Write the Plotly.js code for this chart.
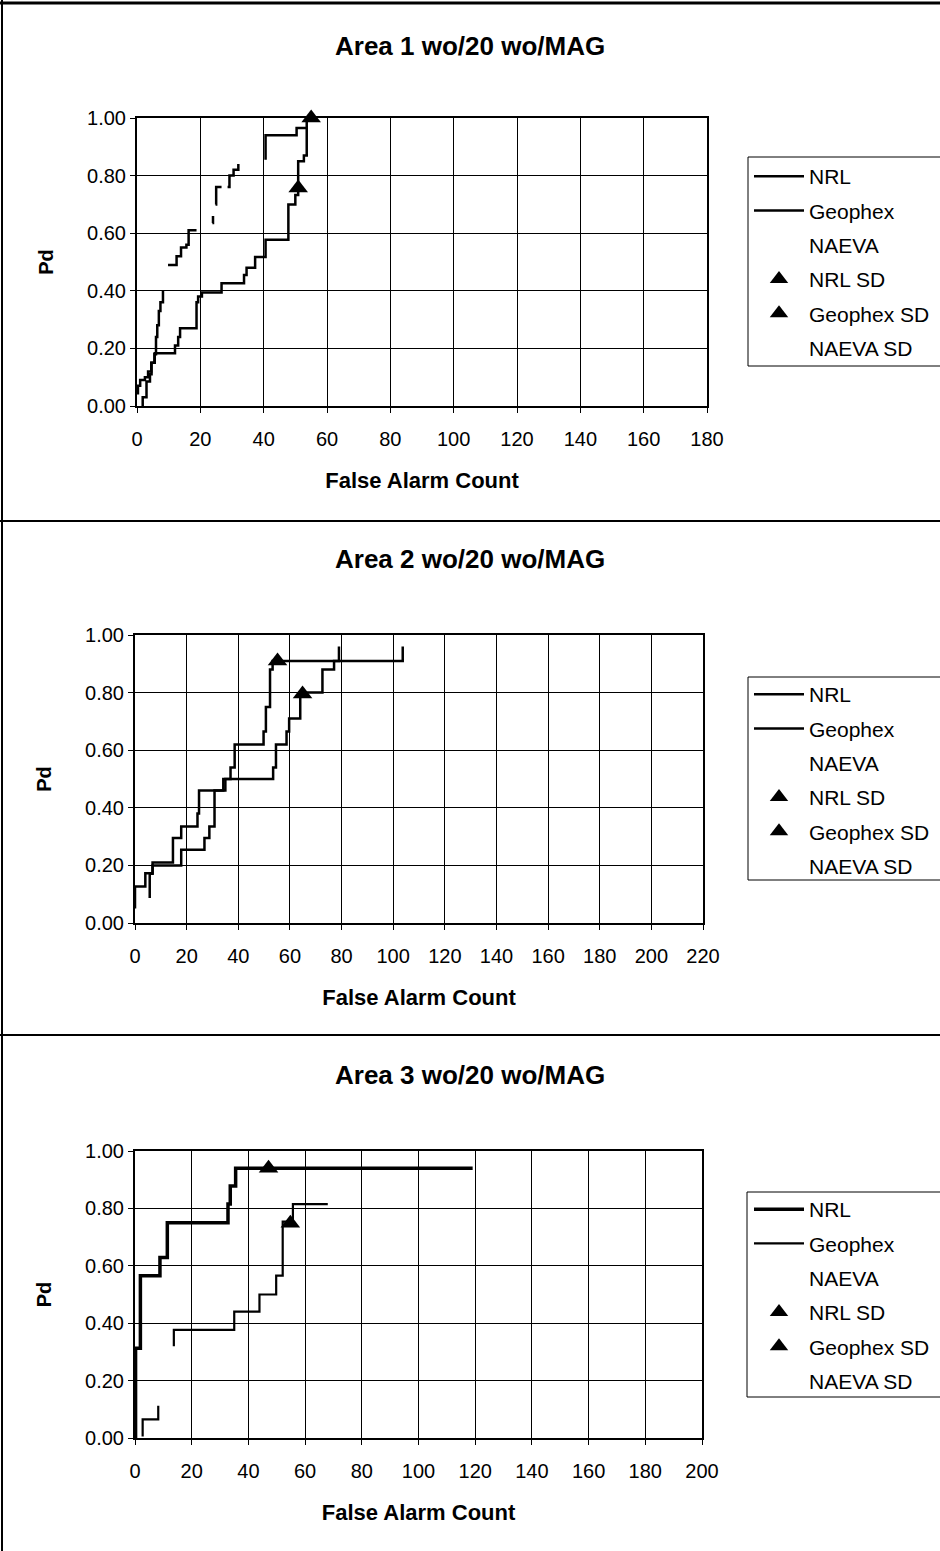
<!DOCTYPE html>
<html>
<head>
<meta charset="utf-8">
<script src="https://cdn.plot.ly/plotly-3.0.1.min.js"></script>
<style>html,body{margin:0;padding:0;background:#fff;}#chart{width:940px;height:1551px;}</style>
</head>
<body>
<div id="chart"></div>
<script>
// ---------- data ----------
const panelTitles = ["Area 1 wo/20 wo/MAG", "Area 2 wo/20 wo/MAG", "Area 3 wo/20 wo/MAG"];
const seriesNames = ["NRL", "Geophex", "NAEVA", "NRL SD", "Geophex SD", "NAEVA SD"];
const xRanges = [[0, 180], [0, 220], [0, 200]];

// Area 1
const a1NrlX = [0.3, 0.3, 1.0, 2.5, 3.5, 4.5, 5.5, 6.0, 6.4, 6.9, 7.4, 8.2, null, 9.8, 12.5, 13.9, 15.6, 16.3, 18.8, null, 23.8, 24.0, null, 24.8, 25.0, 26.7, null, 28.6, 29.2, 30.5, 32.0, null, 40.6, 40.6, 50.4, 53.6, 55.0];
const a1NrlY = [0.04, 0.07, 0.09, 0.10, 0.12, 0.15, 0.18, 0.24, 0.28, 0.33, 0.36, 0.40, null, 0.49, 0.52, 0.55, 0.56, 0.61, 0.61, null, 0.635, 0.66, null, 0.70, 0.76, 0.76, null, 0.76, 0.80, 0.82, 0.84, null, 0.855, 0.94, 0.965, 1.0, 1.0];
const a1GeoX = [1.8, 1.8, 3.0, 4.1, 4.6, 5.6, 12.0, 13.0, 13.6, 18.8, 19.3, 20.5, 26.7, 33.8, 34.6, 37.3, 40.6, 47.8, 50.0, 50.9, 52.7, 53.6];
const a1GeoY = [0.0, 0.03, 0.085, 0.11, 0.15, 0.183, 0.21, 0.24, 0.27, 0.36, 0.38, 0.394, 0.426, 0.455, 0.48, 0.517, 0.577, 0.70, 0.733, 0.85, 0.87, 0.965];
const a1NrlSdX = [55.0], a1NrlSdY = [1.0];
const a1GeoSdX = [50.9], a1GeoSdY = [0.757];

// Area 2
const a2NrlX = [0, 0, 4.0, 6.8, 14.7, 17.9, 24.2, 24.8, 35.0, 37.0, 38.6, 49.8, 50.7, 52.3, 53.3, 103.7];
const a2NrlY = [0.05, 0.127, 0.173, 0.21, 0.295, 0.335, 0.38, 0.46, 0.50, 0.54, 0.62, 0.665, 0.75, 0.88, 0.91, 0.96];
const a2GeoX = [5.7, 5.7, 6.8, 17.9, 26.9, 28.8, 30.8, 34.2, 53.5, 54.6, 58.7, 59.7, 64.0, 72.6, 77.1, 79.0];
const a2GeoY = [0.087, 0.171, 0.20, 0.254, 0.295, 0.335, 0.46, 0.50, 0.54, 0.62, 0.665, 0.71, 0.80, 0.88, 0.91, 0.96];
const a2NrlSdX = [55.2], a2NrlSdY = [0.91];
const a2GeoSdX = [64.9], a2GeoSdY = [0.795];

// Area 3
const a3NrlX = [0.2, 0.2, 1.9, 8.8, 11.4, 32.8, 33.6, 35.5, 119.1];
const a3NrlY = [0.0, 0.313, 0.565, 0.629, 0.75, 0.815, 0.878, 0.94, 0.94];
const a3GeoX = [2.7, 2.7, 8.2, null, 13.7, 13.7, 35.0, 43.9, 49.8, 52.1, 55.7, 68.0];
const a3GeoY = [0.005, 0.065, 0.112, null, 0.32, 0.377, 0.44, 0.50, 0.566, 0.754, 0.815, 0.815];
const a3NrlSdX = [47.1], a3NrlSdY = [0.94];
const a3GeoSdX = [54.8], a3GeoSdY = [0.748];

// ---------- build ----------
const FONT = "Liberation Sans, Arial, sans-serif";
const W = 940, H = 1551;
const px = v => v / W;
const py = v => 1 - v / H;

const panels = [
  {nrl: [a1NrlX, a1NrlY], geo: [a1GeoX, a1GeoY], nsd: [a1NrlSdX, a1NrlSdY], gsd: [a1GeoSdX, a1GeoSdY], nrlW: 2.5, geoW: 2.5,
   plot: {l: 137, r: 707, t: 118, b: 406}, titleY: 46, legTop: 156, box: [748, 157, 366]},
  {nrl: [a2NrlX, a2NrlY], geo: [a2GeoX, a2GeoY], nsd: [a2NrlSdX, a2NrlSdY], gsd: [a2GeoSdX, a2GeoSdY], nrlW: 2.5, geoW: 2.5,
   plot: {l: 135, r: 703, t: 635, b: 923}, titleY: 559, legTop: 674, box: [748, 677, 880]},
  {nrl: [a3NrlX, a3NrlY], geo: [a3GeoX, a3GeoY], nsd: [a3NrlSdX, a3NrlSdY], gsd: [a3GeoSdX, a3GeoSdY], nrlW: 3.5, geoW: 2.2,
   plot: {l: 135, r: 702, t: 1151, b: 1438}, titleY: 1075, legTop: 1189, box: [747, 1192, 1397]}
];

const traces = [];
const layout = {
  width: W, height: H,
  margin: {l: 0, r: 0, t: 0, b: 0},
  paper_bgcolor: "#fff", plot_bgcolor: "#fff",
  font: {family: FONT, size: 20, color: "#000"},
  showlegend: true,
  annotations: [], shapes: []
};

panels.forEach((p, i) => {
  const n = i + 1;
  const xa = n === 1 ? "x" : "x" + n;
  const ya = n === 1 ? "y" : "y" + n;
  const leg = n === 1 ? "legend" : "legend" + n;
  const common = {xaxis: xa, yaxis: ya, legend: leg, cliponaxis: false};
  traces.push(Object.assign({type: "scatter", mode: "lines", name: seriesNames[0], legendgroup: "g" + n + "a",
    x: p.nrl[0], y: p.nrl[1], line: {color: "#000", width: p.nrlW, shape: "hv"}, connectgaps: false}, common));
  traces.push(Object.assign({type: "scatter", mode: "lines", name: seriesNames[1], legendgroup: "g" + n + "b",
    x: p.geo[0], y: p.geo[1], line: {color: "#000", width: p.geoW, shape: "hv"}, connectgaps: false}, common));
  traces.push(Object.assign({type: "scatter", mode: "lines", name: seriesNames[2], legendgroup: "g" + n + "c",
    x: [null], y: [null], line: {color: "rgba(0,0,0,0)", width: 0}}, common));
  traces.push(Object.assign({type: "scatter", mode: "markers", name: seriesNames[3], legendgroup: "g" + n + "d",
    x: p.nsd[0], y: p.nsd[1], marker: {symbol: "triangle-up", size: 17, color: "#000"}}, common));
  traces.push(Object.assign({type: "scatter", mode: "markers", name: seriesNames[4], legendgroup: "g" + n + "e",
    x: p.gsd[0], y: p.gsd[1], marker: {symbol: "triangle-up", size: 17, color: "#000"}}, common));
  traces.push(Object.assign({type: "scatter", mode: "markers", name: seriesNames[5], legendgroup: "g" + n + "f",
    x: [null], y: [null], marker: {symbol: "triangle-up", size: 17, color: "rgba(0,0,0,0)"}}, common));

  const xKey = n === 1 ? "xaxis" : "xaxis" + n;
  const yKey = n === 1 ? "yaxis" : "yaxis" + n;
  layout[xKey] = {
    domain: [px(p.plot.l), px(p.plot.r)], anchor: ya, range: xRanges[i], dtick: 20, tick0: 0,
    showgrid: true, gridcolor: "#000", gridwidth: 1, zeroline: false,
    showline: true, mirror: true, linecolor: "#000", linewidth: 2,
    ticks: "outside", ticklen: 5, tickcolor: "#000", ticklabelstandoff: 9,
    tickfont: {family: FONT, size: 20, color: "#000"}, fixedrange: true,
    title: {text: "<b>False Alarm Count</b>", font: {family: FONT, size: 22, color: "#000"}, standoff: 24}
  };
  layout[yKey] = {
    domain: [py(p.plot.b), py(p.plot.t)], anchor: xa, range: [0, 1], dtick: 0.2, tick0: 0, tickformat: ".2f",
    showgrid: true, gridcolor: "#000", gridwidth: 1, zeroline: false,
    showline: true, mirror: true, linecolor: "#000", linewidth: 2,
    ticks: "outside", ticklen: 5, tickcolor: "#000",
    tickfont: {family: FONT, size: 20, color: "#000"}, fixedrange: true,
    title: {text: "<b>Pd</b>", font: {family: FONT, size: 20, color: "#000"}, standoff: 28}
  };
  layout[leg] = {
    x: px(749), y: py(p.legTop), xanchor: "left", yanchor: "top",
    bgcolor: "rgba(0,0,0,0)", borderwidth: 0, itemwidth: 50, tracegroupgap: 4,
    traceorder: "grouped", font: {family: FONT, size: 21, color: "#000"}
  };
  layout.annotations.push({
    xref: "paper", yref: "paper", x: 0.5, y: py(p.titleY), xanchor: "center", yanchor: "middle",
    text: "<b>" + panelTitles[i] + "</b>", showarrow: false, font: {family: FONT, size: 26, color: "#000"}
  });
  layout.shapes.push({
    type: "rect", xref: "paper", yref: "paper", x0: px(p.box[0]), x1: px(950), y0: py(p.box[2]), y1: py(p.box[1]),
    line: {color: "#000", width: 1}, fillcolor: "rgba(0,0,0,0)", layer: "below"
  });
});

// outer frame and separators
layout.shapes.push({type: "line", xref: "paper", yref: "paper", x0: px(2), x1: px(2), y0: 0, y1: 1, line: {color: "#000", width: 2}});
layout.shapes.push({type: "line", xref: "paper", yref: "paper", x0: 0, x1: 1, y0: py(3), y1: py(3), line: {color: "#000", width: 3}});
layout.shapes.push({type: "line", xref: "paper", yref: "paper", x0: 0, x1: 1, y0: py(521), y1: py(521), line: {color: "#000", width: 2}});
layout.shapes.push({type: "line", xref: "paper", yref: "paper", x0: 0, x1: 1, y0: py(1035), y1: py(1035), line: {color: "#000", width: 2}});

Plotly.newPlot("chart", traces, layout, {staticPlot: true, displayModeBar: false});
</script>
</body>
</html>
